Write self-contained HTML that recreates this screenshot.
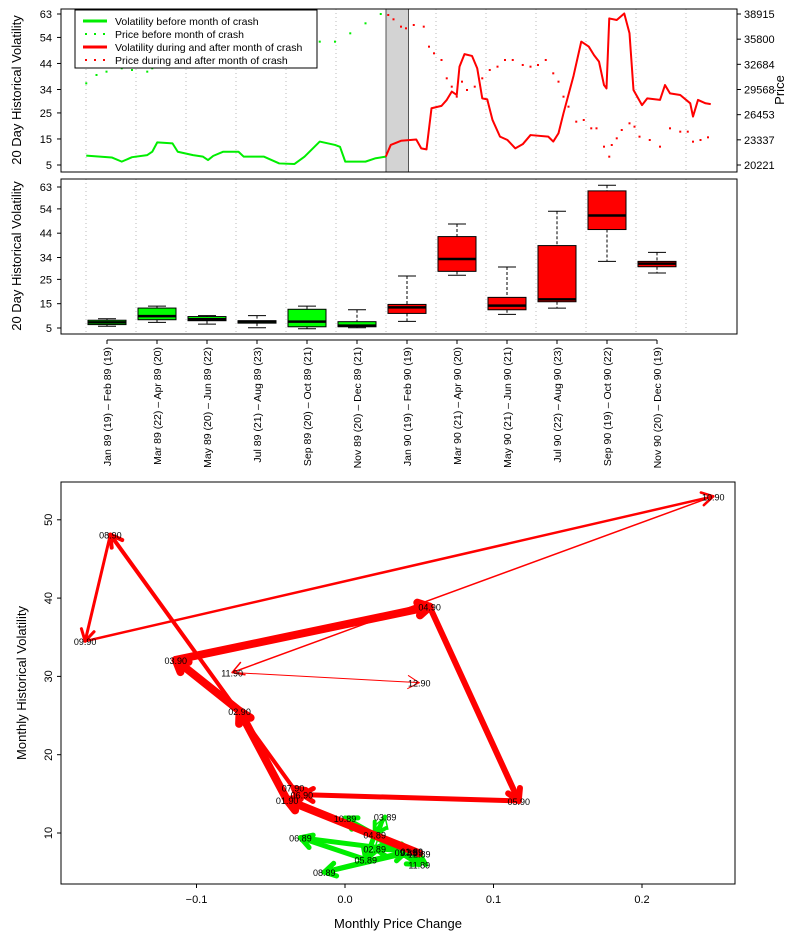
<!DOCTYPE html>
<html><head><meta charset="utf-8"><style>
html,body{margin:0;padding:0;background:#fff;}
svg{display:block;font-family:"Liberation Sans",sans-serif;}
</style></head><body>
<svg id="c" width="794" height="938" viewBox="0 0 794 938"></svg>
<script>
// ---------- DATA ----------
const volBeforeT=[0.01,1.03,1.43,1.84,2.45,2.65,2.85,3.46,3.67,4.28,4.68,4.88,5.09,5.49,6.1,6.31,7.12,7.73,8.34,8.74,9.35,9.96,10.16,10.37,11.18,11.59,11.99];
const volBeforeV=[8.6,7.9,6.3,8,8.8,10.1,13.7,13.3,10.1,8.8,8.2,6.9,8.5,10.1,10.1,8.2,8.2,5.6,5.4,8.2,14,12.7,12,6.3,6.3,7.6,8.2];
const volAfterT=[11.99,12.19,12.6,13.21,13.41,13.62,13.82,14.22,14.43,14.63,14.83,14.94,15.14,15.44,15.65,15.85,16.05,16.26,16.56,16.86,17.17,17.47,17.78,18.49,18.69,18.9,19.1,19.5,19.81,20.11,20.32,20.52,20.72,20.82,20.93,21.23,21.53,21.74,21.9,22.24,22.45,22.96,23.16,23.36,23.77,24.17,24.28,24.48,24.78,24.99];
const volAfterV=[8.2,12.7,14.3,14.8,11.4,11,26.8,27.7,30,33.2,31.9,42.8,47.6,46.9,42.1,30.6,30.2,22.3,15.9,14.6,11.4,13,16.5,15.9,14,17.2,24.9,39.2,52.4,50.5,47.2,44.7,35.7,34.4,61.3,60.7,63.2,55.6,33.8,28,30.6,30,35.7,32.5,31.9,28.7,23.6,30,28.7,28.4];
const priceBeforeT=[0.01,0.42,0.82,1.43,1.84,2.45,2.65,3.06,3.67,4.28,4.68,5.09,5.49,5.9,6.71,7.32,7.93,8.74,9.35,9.96,10.57,11.18,11.79];
const priceBeforeV=[30332,31364,31777,32190,31983,31777,32190,33221,33840,34047,33840,33634,33221,34047,34666,35078,35491,35285,35491,35491,36523,37761,38915];
const priceAfterT=[12.09,12.3,12.6,12.8,13.11,13.51,13.72,13.92,14.22,14.43,14.63,14.83,15.04,15.24,15.55,15.85,16.15,16.46,16.76,17.07,17.47,17.78,18.08,18.39,18.69,18.9,19.1,19.3,19.61,19.91,20.21,20.42,20.72,20.93,21.03,21.23,21.43,21.74,21.94,22.14,22.55,22.96,23.36,23.77,24.07,24.28,24.58,24.88];
const priceAfterV=[38793,38256,37349,37141,37554,37349,34872,34047,33221,30951,29919,28681,30538,29507,29919,30951,31983,32396,33221,33221,32603,32396,32603,33221,31570,30538,28681,27443,25586,25792,24761,24761,22491,21253,22697,23523,24554,25380,24967,23729,23316,22491,24761,24348,24348,23110,23316,23646];
const boxLabels=["Jan 89 (19) – Feb 89 (19)","Mar 89 (22) – Apr 89 (20)","May 89 (20) – Jun 89 (22)","Jul 89 (21) – Aug 89 (23)","Sep 89 (20) – Oct 89 (21)","Nov 89 (20) – Dec 89 (21)","Jan 90 (19) – Feb 90 (19)","Mar 90 (21) – Apr 90 (20)","May 90 (21) – Jun 90 (21)","Jul 90 (22) – Aug 90 (23)","Sep 90 (19) – Oct 90 (22)","Nov 90 (20) – Dec 90 (19)"];
const boxMin=[5.7,7.3,6.6,5.1,4.7,5.1,7.7,26.7,10.6,13.2,32.4,27.6];
const boxQ1=[6.4,8.4,8,7,5.5,5.5,11,28.3,12.5,15.8,45.5,30.2];
const boxMed=[7.3,9.9,8.6,7.6,7.6,6,13.5,33.4,14.2,16.8,51.3,31.5];
const boxQ3=[8.2,13.2,9.7,8,12.7,7.6,14.7,42.6,17.6,38.9,61.4,32.4];
const boxMax=[8.8,14,10.1,10.1,14,12.5,26.4,47.8,30.1,53,63.7,36.1];
const monthLabels=["01.89","02.89","03.89","04.89","05.89","06.89","07.89","08.89","09.89","10.89","11.89","12.89","01.90","02.90","03.90","04.90","05.90","06.90","07.90","08.90","09.90","10.90","11.90","12.90"];
const priceChange=[0.045,0.02,0.027,0.02,0.014,-0.030,0.045,-0.014,0.041,0.0,0.050,0.050,-0.039,-0.071,-0.114,0.057,0.117,-0.029,-0.035,-0.158,-0.175,0.248,-0.076,0.050];
const monthlyVol=[7.7,8.0,12.1,9.8,6.6,9.4,7.6,5.0,7.6,11.9,6.0,7.4,14.2,25.6,32.1,38.9,14.1,14.9,15.8,48.1,34.5,53.0,30.5,29.2];
const arrowWidth=[5,1.5,4,5,5,5,5,5,5,5,5,8,8,8,8,6,5,5,4,3,2.5,1.5,1];
const volTicks=[5,15,25,34,44,54,63];
const priceTicks=[20221,23337,26453,29568,32684,35800,38915];
const sxTicks=[-0.1,0,0.1,0.2];
const syTicks=[10,20,30,40,50];

// ---------- HELPERS ----------
const svgEl=document.getElementById('c');
const NS="http://www.w3.org/2000/svg";
function mk(tag,attrs,parent){const e=document.createElementNS(NS,tag);for(const k in attrs)e.setAttribute(k,attrs[k]);(parent||svgEl).appendChild(e);return e;}
function txt(s,x,y,attrs,parent){const e=mk('text',Object.assign({x:x,y:y},attrs),parent);e.textContent=s;return e;}

// ---------- TOP PANEL ----------
const tx=t=>86+25*t;
const tv=v=>165-(v-5)*151/58;
const tp=p=>165-(p-20221)*151/(38915-20221);
const topG=mk('g',{});


for(let i=0;i<13;i++){const l=mk('line',{x1:tx(i*2),x2:tx(i*2),y1:9,y2:172,stroke:'#bbb','stroke-dasharray':'1,3'},topG);}
const gray=mk('rect',{x:tx(12),y:9,width:tx(12.9)-tx(12),height:163,fill:'#d3d3d3',stroke:'#555'},topG);

function poly(T,V,col,w,name,g){const p=mk('polyline',{points:T.map((t,i)=>tx(t)+','+tv(V[i])).join(' '),fill:'none',stroke:col,'stroke-width':w,'stroke-linejoin':'round'},g);}
function dots(T,V,col,name,g){const gg=mk('g',{},g);T.forEach((t,i)=>mk('rect',{x:tx(t)-1,y:tp(V[i])-1,width:2,height:2,fill:col},gg));}
dots(priceBeforeT,priceBeforeV,'#00ee00','price-before-dots',topG);
dots(priceAfterT,priceAfterV,'#ff0000','price-after-dots',topG);
poly(volBeforeT,volBeforeV,'#00ee00',2,'volatility-before-line',topG);
poly(volAfterT,volAfterV,'#ff0000',2,'volatility-after-line',topG);
mk('rect',{x:61,y:9,width:676,height:163,fill:'none',stroke:'#000'},topG);
volTicks.forEach(v=>{mk('line',{x1:57,x2:61,y1:tv(v),y2:tv(v),stroke:'#000'},topG);txt(v,52,tv(v)+4,{'font-size':11,'text-anchor':'end'},topG);});
priceTicks.forEach(p=>{mk('line',{x1:737,x2:741,y1:tp(p),y2:tp(p),stroke:'#000'},topG);txt(p,744,tp(p)+4,{'font-size':11},topG);});
const yl1=txt('20 Day Historical Volatility',0,0,{'font-size':13,'text-anchor':'middle',transform:'translate(21,90) rotate(-90)'},topG);

const yl2=txt('Price',0,0,{'font-size':13,'text-anchor':'middle',transform:'translate(784,90) rotate(-90)'},topG);

const lg=mk('g',{},topG);
mk('rect',{x:75,y:10,width:242,height:58,fill:'#fff',stroke:'#000'},lg);
const leg=[["Volatility before month of crash",'#00ee00',0],["Price before month of crash",'#00ee00',1],["Volatility during and after month of crash",'#ff0000',0],["Price during and after month of crash",'#ff0000',1]];
leg.forEach((e,i)=>{const y=21+i*13;const li=mk('g',{},lg);
 if(e[2]){for(let k=0;k<3;k++)mk('rect',{x:85+k*9,y:y-1,width:2,height:2,fill:e[1]},li);} else mk('line',{x1:83,x2:107,y1:y,y2:y,stroke:e[1],'stroke-width':3},li);
 txt(e[0],115,y+4,{'font-size':10.5},li);});

// ---------- BOX PANEL ----------
const bv=v=>328-(v-5)*141/58;
const bx=i=>107+50*i;
const bp=mk('g',{});
for(let i=0;i<13;i++){const l=mk('line',{x1:tx(i*2),x2:tx(i*2),y1:179,y2:334,stroke:'#bbb','stroke-dasharray':'1,3'},bp);}
boxLabels.forEach((lab,i)=>{const g=mk('g',{},bp);
 const x=bx(i),col=i<6?'#00ff00':'#ff0000',hw=19;
 mk('line',{x1:x,x2:x,y1:bv(boxMax[i]),y2:bv(boxQ3[i]),stroke:'#000','stroke-dasharray':'3,2'},g);
 mk('line',{x1:x,x2:x,y1:bv(boxQ1[i]),y2:bv(boxMin[i]),stroke:'#000','stroke-dasharray':'3,2'},g);
 mk('line',{x1:x-9,x2:x+9,y1:bv(boxMax[i]),y2:bv(boxMax[i]),stroke:'#000'},g);
 mk('line',{x1:x-9,x2:x+9,y1:bv(boxMin[i]),y2:bv(boxMin[i]),stroke:'#000'},g);
 mk('rect',{x:x-hw,y:bv(boxQ3[i]),width:2*hw,height:Math.max(1,bv(boxQ1[i])-bv(boxQ3[i])),fill:col,stroke:'#000'},g);
 mk('line',{x1:x-hw,x2:x+hw,y1:bv(boxMed[i]),y2:bv(boxMed[i]),stroke:'#000','stroke-width':2.5},g);
 mk('line',{x1:x,x2:x,y1:340,y2:344,stroke:'#000'},bp);
 const t=txt(lab,0,0,{'font-size':10.5,'text-anchor':'end',transform:'translate('+(x+4)+',347) rotate(-90)'},bp);
 });
mk('line',{x1:bx(0),x2:bx(11),y1:340,y2:340,stroke:'#000'},bp);
mk('rect',{x:61,y:179,width:676,height:155,fill:'none',stroke:'#000'},bp);
volTicks.forEach(v=>{mk('line',{x1:57,x2:61,y1:bv(v),y2:bv(v),stroke:'#000'},bp);txt(v,52,bv(v)+4,{'font-size':11,'text-anchor':'end'},bp);});
const yl3=txt('20 Day Historical Volatility',0,0,{'font-size':13,'text-anchor':'middle',transform:'translate(21,256) rotate(-90)'},bp);


// ---------- SCATTER ----------
const sx=v=>345+v*1485;
const sy=v=>833-(v-10)*7.83;
const sp=mk('g',{});
mk('rect',{x:61,y:482,width:674,height:402,fill:'none',stroke:'#000'},sp);
sxTicks.forEach(v=>{mk('line',{x1:sx(v),x2:sx(v),y1:884,y2:888,stroke:'#000'},sp);txt(v===0?'0.0':(v<0?'−':'')+Math.abs(v),sx(v),903,{'font-size':11,'text-anchor':'middle'},sp);});
syTicks.forEach(v=>{mk('line',{x1:57,x2:61,y1:sy(v),y2:sy(v),stroke:'#000'},sp);txt(v,0,0,{'font-size':11,'text-anchor':'middle',transform:'translate(52,'+sy(v)+') rotate(-90)'},sp);});
const xl=txt('Monthly Price Change',398,928,{'font-size':13,'text-anchor':'middle'},sp);
const yl4=txt('Monthly Historical Volatility',0,0,{'font-size':13,'text-anchor':'middle',transform:'translate(26,683) rotate(-90)'},sp);
for(let i=0;i<monthLabels.length-1;i++){
 const x1=sx(priceChange[i]),y1=sy(monthlyVol[i]),x2=sx(priceChange[i+1]),y2=sy(monthlyVol[i+1]);
 const col=i<11?'#00ee00':'#ff0000',w=arrowWidth[i];
 const a=mk('g',{stroke:col,'stroke-width':w,'stroke-linecap':'round',fill:'none'},sp);
 
 mk('line',{x1:x1,y1:y1,x2:x2,y2:y2},a);
 const ang=Math.atan2(y2-y1,x2-x1),L=13;
 [ang+Math.PI*5/6,ang-Math.PI*5/6].forEach(b=>mk('line',{x1:x2,y1:y2,x2:x2+L*Math.cos(b),y2:y2+L*Math.sin(b)},a));
}
monthLabels.forEach((m,i)=>{const t=txt(m,sx(priceChange[i]),sy(monthlyVol[i])+4,{'font-size':9,'text-anchor':'middle'},sp);});
</script>
</body></html>
